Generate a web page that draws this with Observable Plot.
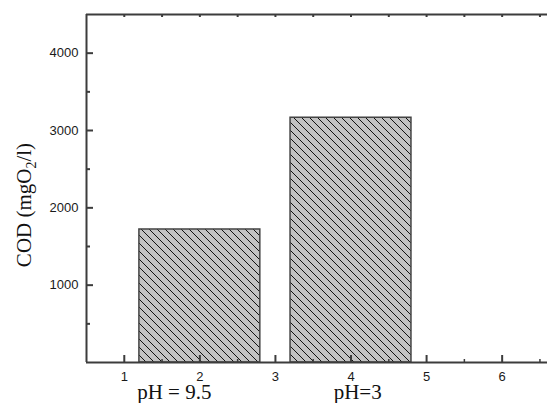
<!DOCTYPE html>
<html><head><meta charset="utf-8">
<script src="https://cdn.jsdelivr.net/npm/d3@7"></script>
<script src="https://cdn.jsdelivr.net/npm/@observablehq/plot@0.6"></script>
<style>body{margin:0;background:#fff} svg{display:block}</style>
</head><body><div id="chart"></div>
<script>
// ---- data ----
const barStart = [1.2, 3.2];
const barEnd = [2.8, 4.8];
const codValues = [1720, 3165];
const groupLabels = ["pH = 9.5", "pH=3"];
const groupLabelX = [1.17, 3.77];
const xTicks = [1, 2, 3, 4, 5, 6];
const xMinorTicks = [1.5, 2.5, 3.5, 4.5, 5.5, 6.5];
const yTicks = [1000, 2000, 3000, 4000];
const yMinorTicks = [500, 1500, 2500, 3500];
const yLabelParts = ["COD (mgO", "2", "/l)"];
const xDomain = [0.5, 6.6];
const yDomain = [0, 4500];

const table = barStart.map((s, i) => ({x1: s, x2: barEnd[i], y: codValues[i]}));
const topTicks = xTicks.concat(xMinorTicks).sort((a, b) => a - b);
const AX = "#3c3c3c";
const serif = "'Liberation Serif', 'Times New Roman', serif";
const sans = "'Liberation Sans', Arial, sans-serif";

const plot = Plot.plot({
  width: 547, height: 403,
  marginLeft: 86, marginRight: 0, marginTop: 14, marginBottom: 41,
  x: {domain: xDomain, axis: null},
  y: {domain: yDomain, axis: null},
  style: {fontFamily: sans, fontSize: "13px", color: "#1a1a1a", background: "#fff"},
  marks: [
    Plot.rectY(table, {x1: "x1", x2: "x2", y: "y", fill: "url(#hatch)", stroke: "#444", strokeWidth: 1.5}),
    Plot.ruleX([xDomain[0]], {stroke: AX, strokeWidth: 2}),
    Plot.ruleY([yDomain[0]], {stroke: AX, strokeWidth: 2}),
    Plot.ruleY([yDomain[1]], {stroke: AX, strokeWidth: 2}),
    Plot.axisY(yTicks, {anchor: "left", tickSize: -7, fill: "none", stroke: AX, strokeWidth: 2, label: null}),
    Plot.axisY(yMinorTicks, {anchor: "left", tickSize: -4, fill: "none", stroke: AX, strokeWidth: 2, label: null}),
    Plot.axisY(yTicks, {anchor: "left", tickSize: 0, tickPadding: 8, label: null, tickFormat: d3.format("d"),
      fontSize: 13, fontFamily: sans, fill: "#1a1a1a"}),
    Plot.axisX(xTicks, {anchor: "bottom", tickSize: -7, fill: "none", stroke: AX, strokeWidth: 2, label: null}),
    Plot.axisX(xMinorTicks, {anchor: "bottom", tickSize: -3, fill: "none", stroke: AX, strokeWidth: 1.5, label: null}),
    Plot.axisX(xTicks, {anchor: "bottom", tickSize: 0, tickPadding: 9, label: null, tickFormat: d3.format("d"),
      fontSize: 13, fontFamily: sans, fill: "#1a1a1a"}),
    Plot.axisX(topTicks, {anchor: "top", tickSize: -2, fill: "none", stroke: AX, strokeWidth: 2, label: null}),
    Plot.text(groupLabels, {x: (d, i) => groupLabelX[i], y: () => yDomain[0], text: d => d, dy: 36,
      textAnchor: "start", lineAnchor: "bottom", fontFamily: serif, fontSize: 21, fill: "#111"})
  ]
});

const svg = d3.select(plot);
const defs = svg.insert("defs", ":first-child");
const pat = defs.append("pattern").attr("id", "hatch").attr("patternUnits", "userSpaceOnUse")
  .attr("width", 8).attr("height", 8);
pat.append("rect").attr("width", 8).attr("height", 8).attr("fill", "#c2c2c2");
pat.append("path").attr("d", "M-1,-1L9,9M-1,7L1,9M7,-1L9,1").attr("stroke", "#111").attr("stroke-width", 1);

const lab = svg.append("text")
  .attr("transform", "translate(31,205) rotate(-90)")
  .attr("text-anchor", "middle")
  .attr("font-family", serif).attr("font-size", 21).attr("fill", "#111");
lab.append("tspan").text(yLabelParts[0]);
lab.append("tspan").attr("font-size", 14).attr("dy", 5).text(yLabelParts[1]);
lab.append("tspan").attr("dy", -5).text(yLabelParts[2]);

document.getElementById("chart").appendChild(plot);
</script>
</body></html>
